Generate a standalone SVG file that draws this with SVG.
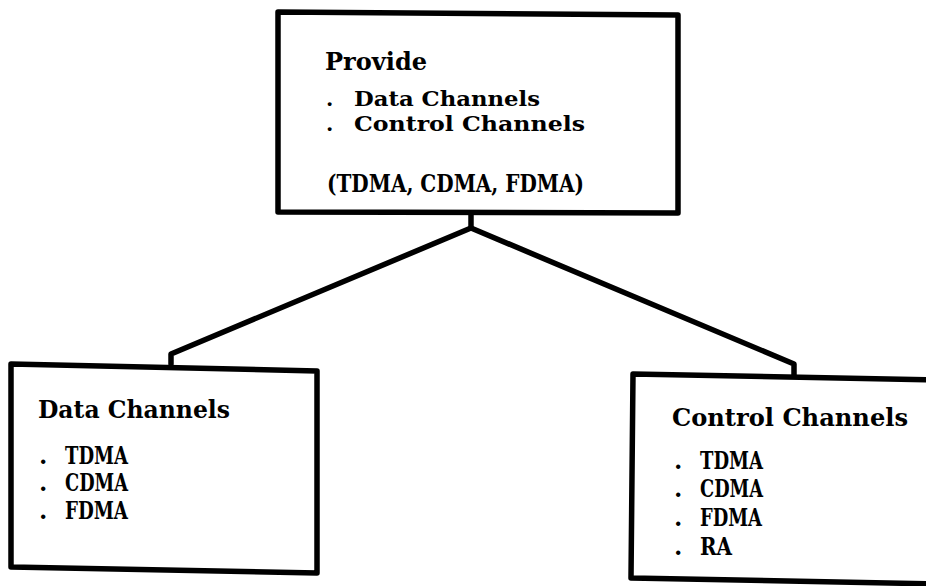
<svg xmlns="http://www.w3.org/2000/svg" width="926" height="586" viewBox="0 0 926 586">
<style>
.box{fill:none;stroke:#000;stroke-width:5.5;stroke-linejoin:round;stroke-linecap:round}
.con{fill:none;stroke:#000;stroke-width:5.5;stroke-linejoin:round;stroke-linecap:round}
.t{font-family:"DejaVu Serif","Liberation Serif",serif;font-weight:bold;font-size:24px;fill:#000}
.s{font-size:21px}
</style>
<rect width="926" height="586" fill="#fff"/>
<g id="connectors">
<path class="con" d="M171,364 L171,354 L471,228 L794,364 L794,376"/>
<path class="con" d="M471,228 L471,213"/>
</g>
<g id="provide">
<path class="box" d="M278,12 L678,15 L678,213 L278,212 Z"/>
<text class="t" x="325" y="70" textLength="102" lengthAdjust="spacingAndGlyphs">Provide</text>
<text class="t s" x="326" y="106">.</text>
<text class="t s" x="354" y="106" textLength="186" lengthAdjust="spacingAndGlyphs">Data Channels</text>
<text class="t s" x="326" y="131">.</text>
<text class="t s" x="354" y="131" textLength="231" lengthAdjust="spacingAndGlyphs">Control Channels</text>
<text class="t" x="327" y="192" textLength="257" lengthAdjust="spacingAndGlyphs">(TDMA, CDMA, FDMA)</text>
</g>
<g id="data-channels">
<path class="box" d="M11,364 L317,371 L317,573 L11,567 Z"/>
<text class="t" x="38" y="418" textLength="192" lengthAdjust="spacingAndGlyphs">Data Channels</text>
<text class="t" x="39" y="464">.</text>
<text class="t" x="65" y="464" textLength="63" lengthAdjust="spacingAndGlyphs">TDMA</text>
<text class="t" x="39" y="491">.</text>
<text class="t" x="65" y="491" textLength="63" lengthAdjust="spacingAndGlyphs">CDMA</text>
<text class="t" x="39" y="519">.</text>
<text class="t" x="65" y="519" textLength="63" lengthAdjust="spacingAndGlyphs">FDMA</text>
</g>
<g id="control-channels">
<path class="box" d="M940,380 L633,374 L631,578 L940,584"/>
<text class="t" x="672" y="426" textLength="236" lengthAdjust="spacingAndGlyphs">Control Channels</text>
<text class="t" x="674" y="469">.</text>
<text class="t" x="700" y="469" textLength="63" lengthAdjust="spacingAndGlyphs">TDMA</text>
<text class="t" x="674" y="497">.</text>
<text class="t" x="700" y="497" textLength="63" lengthAdjust="spacingAndGlyphs">CDMA</text>
<text class="t" x="674" y="526">.</text>
<text class="t" x="700" y="526" textLength="62" lengthAdjust="spacingAndGlyphs">FDMA</text>
<text class="t" x="674" y="555">.</text>
<text class="t" x="700" y="555" textLength="32" lengthAdjust="spacingAndGlyphs">RA</text>
</g>
</svg>
